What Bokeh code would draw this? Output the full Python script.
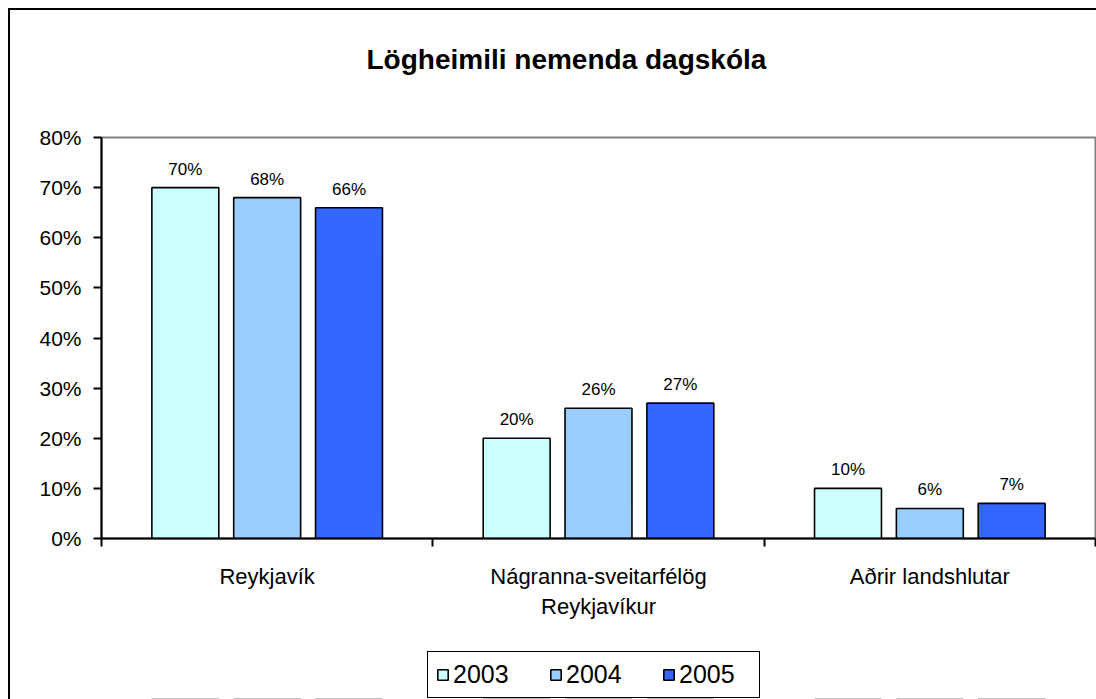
from bokeh.plotting import figure
from bokeh.layouts import column
from bokeh.models import (Range1d, LinearAxis, FixedTicker, NumeralTickFormatter,
                          ColumnDataSource, LabelSet, Legend, LegendItem)
from bokeh.transform import dodge
from bokeh.core.properties import value
from bokeh.embed import file_html
from bokeh.resources import INLINE

# ---- data ----
categories = ["Reykjavík", "Nágranna-sveitarfélög\nReykjavíkur", "Aðrir landshlutar"]
years = ["2003", "2004", "2005"]
v2003 = [0.70, 0.20, 0.10]
v2004 = [0.68, 0.26, 0.06]
v2005 = [0.66, 0.27, 0.07]
colors = ["#CCFFFF", "#99CCFF", "#3366FF"]
y_ticks = [0.0, 0.1, 0.2, 0.3, 0.4, 0.5, 0.6, 0.7, 0.8]
title_text = "Lögheimili nemenda dagskóla"

FONT = "Liberation Sans"

n = len(categories)
centers = [i + 0.5 for i in range(n)]      # category slot centres
edges = [float(i) for i in range(n + 1)]   # category slot boundaries

series = {"2003": v2003, "2004": v2004, "2005": v2005}
data = {"pos": centers, "cat": categories}
for yr in years:
    data["y" + yr] = series[yr]
    data["t" + yr] = [f"{round(v * 100)}%" for v in series[yr]]
source = ColumnDataSource(data)

W = 1086
H1 = 620
H2 = 69

p = figure(x_range=Range1d(0, n), y_range=Range1d(0, 0.8),
           width=W, height=H1, output_backend="svg", toolbar_location=None,
           x_axis_location=None, min_border_left=91, min_border_right=1,
           min_border_top=126, min_border_bottom=92)

p.background_fill_color = "white"
p.border_fill_color = "white"
p.outline_line_color = "#808080"
p.outline_line_width = 2
p.xgrid.visible = False
p.ygrid.visible = False

# title (second, blank line keeps the title high above the plot area)
p.title.text = title_text + "\n\u00a0"
p.title.align = "left"
p.title.vertical_align = "bottom"
p.title.offset = 265
p.title.standoff = 63
p.title.text_font = FONT
p.title.text_font_size = "28px"
p.title.text_font_style = "bold"
p.title.text_color = "black"

# y axis
yax = p.yaxis[0]
yax.ticker = FixedTicker(ticks=y_ticks)
yax.formatter = NumeralTickFormatter(format="0%")
yax.major_tick_out = 8
yax.major_tick_in = 0
yax.minor_tick_out = 0
yax.minor_tick_in = 0
yax.axis_line_width = 2
yax.axis_line_color = "black"
yax.major_tick_line_width = 2
yax.major_label_text_font = FONT
yax.major_label_text_font_size = "21px"
yax.major_label_text_color = "black"
yax.major_label_standoff = 12

# x axis: ticks at category boundaries, labels at category centres
tick_axis = LinearAxis(ticker=FixedTicker(ticks=edges),
                       major_label_overrides={e: "" for e in edges},
                       major_label_text_font_size="1px",
                       major_label_standoff=0, major_tick_out=8, major_tick_in=0,
                       minor_tick_out=0, minor_tick_in=0, axis_line_width=2,
                       axis_line_color="black", major_tick_line_width=2)
label_axis = LinearAxis(ticker=FixedTicker(ticks=centers),
                        major_label_overrides={c: name for c, name in zip(centers, categories)},
                        axis_line_color=None, major_tick_line_color=None,
                        minor_tick_line_color=None,
                        major_label_standoff=11, major_label_text_font=FONT,
                        major_label_text_font_size="22px",
                        major_label_text_color="black")
p.add_layout(tick_axis, "below")
p.add_layout(label_axis, "below")

# bars
offsets = [-0.247, 0.0, 0.247]
for yr, col, off in zip(years, colors, offsets):
    p.vbar(x=dodge("pos", off), top="y" + yr, width=0.202,
           source=source, fill_color=col, line_color="black", line_width=1.6)
    labels = LabelSet(x=dodge("pos", off), y="y" + yr, text="t" + yr,
                      source=source, text_align="center", text_baseline="alphabetic",
                      y_offset=13, text_font=value(FONT), text_font_size="17px",
                      text_color="black")
    p.add_layout(labels)

# legend strip (same series; its view range keeps the bars out of sight)
p2 = figure(x_range=Range1d(0, n), y_range=Range1d(1000, 1001), width=W, height=H2,
            output_backend="svg", toolbar_location=None, x_axis_location=None,
            y_axis_location=None, min_border_left=0, min_border_right=0,
            min_border_top=0, min_border_bottom=0)
p2.outline_line_color = None
p2.xgrid.visible = False
p2.ygrid.visible = False
p2.background_fill_color = "white"
p2.border_fill_color = "white"
items = []
for yr, col, off in zip(years, colors, offsets):
    r = p2.vbar(x=dodge("pos", off), top="y" + yr, width=0.202,
                source=source, fill_color=col, line_color="black", line_width=1.6)
    items.append(LegendItem(label=yr, renderers=[r]))
lg = Legend(items=items, location=(326, 1), orientation="horizontal",
            border_line_color="black", border_line_width=1.5, border_line_alpha=1,
            background_fill_alpha=1, label_text_font=FONT, label_text_font_size="25px",
            label_text_color="black", glyph_width=13, glyph_height=13,
            label_standoff=4, label_width=72, spacing=24, padding=8, margin=0)
p2.add_layout(lg, "center")

layout = column(p, p2, spacing=0,
                styles={"border-left": "2px solid black", "border-top": "2px solid black",
                        "margin-left": "8px", "margin-top": "8px"})

open("out.html", "w").write(file_html(layout, INLINE))
